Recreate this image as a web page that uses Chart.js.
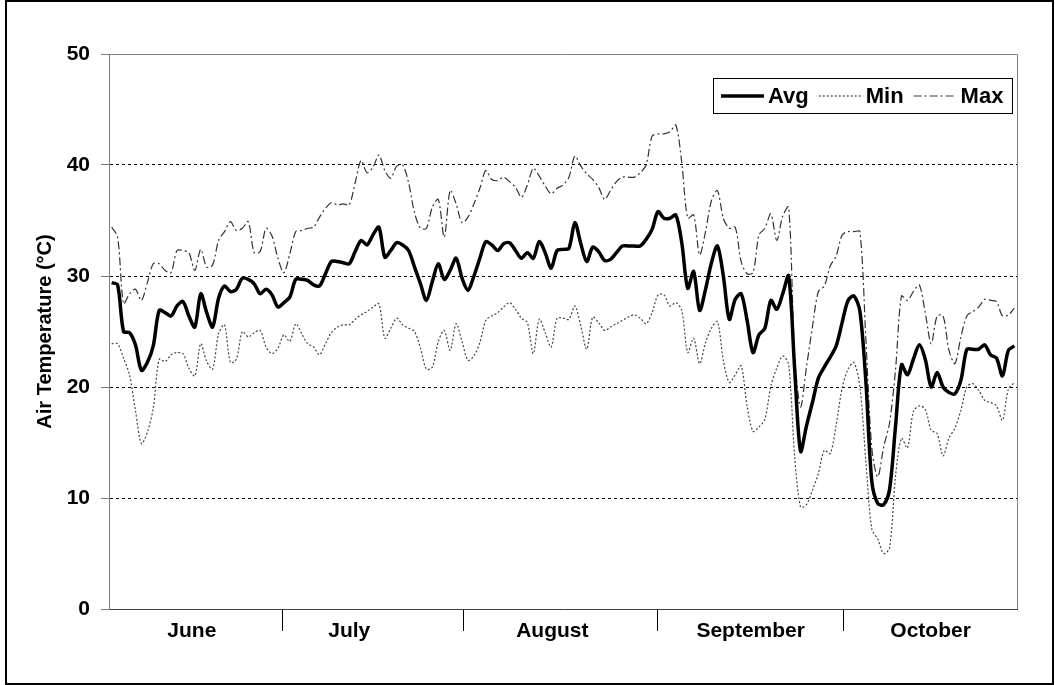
<!DOCTYPE html>
<html>
<head>
<meta charset="utf-8">
<script src="https://cdn.jsdelivr.net/npm/chart.js@4.4.0/dist/chart.umd.min.js"></script>
<style>
  html, body { margin: 0; padding: 0; background: #fff; }
  #wrap { width: 1055px; height: 685px; }
</style>
</head>
<body>
<div id="wrap"><canvas id="chart" width="1055" height="685"></canvas></div>
<script>
// daily air temperature, June - October (deg C)
const avgTemp = [
  29.4, 29.2, 25.0, 24.9, 23.8, 21.5, 22.2, 23.7, 26.9, 26.7,
  26.4, 27.3, 27.7, 26.4, 25.4, 28.4, 26.7, 25.4, 28.0, 29.1,
  28.6, 28.8, 29.8, 29.7, 29.3, 28.4, 28.8, 28.3, 27.2, 27.6,
  28.1, 29.7, 29.7, 29.6, 29.2, 29.1, 30.2, 31.3, 31.3, 31.2,
  31.1, 32.2, 33.2, 32.8, 33.7, 34.4, 31.7, 32.3, 33.0, 32.8,
  32.3, 30.8, 29.3, 27.8, 29.5, 31.1, 29.7, 30.5, 31.6, 29.8,
  28.7, 30.0, 31.6, 33.1, 32.8, 32.3, 32.9, 33.0, 32.3, 31.6,
  32.1, 31.6, 33.1, 32.1, 30.7, 32.3, 32.4, 32.5, 34.8, 32.9,
  31.3, 32.6, 32.2, 31.4, 31.5, 32.1, 32.7, 32.7, 32.7, 32.7,
  33.3, 34.2, 35.8, 35.2, 35.2, 35.5, 33.0, 28.9, 30.4, 26.9,
  28.8, 31.2, 32.7, 30.0, 26.1, 27.9, 28.4, 26.0, 23.1, 24.7,
  25.3, 27.8, 27.0, 28.4, 30.0, 21.7, 14.2, 16.5, 18.6, 20.8,
  21.8, 22.7, 23.7, 25.8, 27.8, 28.2, 26.8, 20.5, 11.5, 9.5,
  9.4, 10.8, 16.5, 22.0, 21.1, 22.5, 23.8, 22.5, 20.0, 21.3,
  20.0, 19.5, 19.4, 20.6, 23.4, 23.4, 23.4, 23.8, 22.9, 22.6,
  21.0, 23.3, 23.7
];
const minTemp = [
  23.9, 23.9, 22.6, 21.1, 17.9, 14.9, 15.9, 18.1, 22.5, 22.3,
  22.9, 23.1, 23.0, 21.7, 21.0, 23.9, 22.3, 21.6, 24.8, 25.6,
  22.2, 22.5, 25.0, 24.5, 24.9, 25.1, 23.6, 23.0, 23.5, 24.7,
  24.1, 25.7, 24.8, 23.9, 23.6, 22.9, 23.9, 24.9, 25.4, 25.6,
  25.6, 26.1, 26.5, 26.8, 27.2, 27.5, 24.4, 25.3, 26.2, 25.6,
  25.3, 25.0, 23.5, 21.6, 21.8, 24.1, 25.1, 23.3, 25.7, 24.1,
  22.4, 22.8, 24.0, 26.0, 26.4, 26.7, 27.2, 27.6, 27.0, 26.2,
  25.8, 23.0, 26.1, 24.9, 23.6, 26.2, 26.2, 26.1, 27.3, 25.5,
  23.4, 26.3, 25.8, 25.1, 25.4, 25.7, 26.0, 26.3, 26.5, 26.2,
  25.7, 26.7, 28.3, 28.3, 27.3, 27.6, 26.9, 23.1, 24.4, 22.1,
  24.0, 25.3, 25.9, 22.4, 20.4, 21.1, 21.9, 18.3, 16.0, 16.4,
  17.1, 20.1, 21.7, 22.8, 22.0, 13.8, 9.2, 9.4, 10.7, 12.2,
  14.3, 14.0, 16.6, 19.9, 21.6, 22.2, 20.0, 13.3, 7.2, 6.3,
  5.0, 5.5, 12.0, 15.4, 14.5, 17.8, 18.3, 18.0, 16.1, 15.8,
  13.8, 15.4, 16.3, 17.9, 20.0, 20.3, 19.7, 18.8, 18.6, 18.3,
  17.0, 19.8, 20.4
];
const maxTemp = [
  34.4, 33.5, 27.5, 28.4, 28.8, 27.8, 29.4, 31.1, 31.1, 30.5,
  30.3, 32.3, 32.3, 32.1, 30.5, 32.4, 30.8, 31.0, 33.2, 34.0,
  34.9, 34.1, 34.3, 34.9, 32.1, 32.2, 34.3, 33.6, 31.6, 30.3,
  32.0, 34.0, 34.1, 34.3, 34.4, 35.3, 36.1, 36.6, 36.4, 36.5,
  36.4, 38.4, 40.4, 39.3, 39.8, 40.9, 39.5, 38.8, 39.9, 40.0,
  38.4, 35.7, 34.3, 34.3, 36.2, 36.9, 33.5, 37.7, 36.5, 34.8,
  35.3, 36.5, 37.9, 39.5, 38.7, 38.6, 38.9, 38.5, 38.0, 37.1,
  38.2, 39.7, 39.0, 38.1, 37.4, 37.9, 38.2, 38.9, 40.8, 39.9,
  39.2, 38.7, 38.0, 36.9, 37.7, 38.5, 38.9, 38.9, 38.9, 39.3,
  40.0, 42.6, 42.8, 42.8, 43.0, 43.6, 40.2, 35.2, 35.5, 31.9,
  34.0, 36.8, 37.7, 35.2, 34.3, 34.4, 31.3, 30.2, 30.3, 33.7,
  34.3, 35.6, 33.2, 35.4, 36.2, 23.0, 18.2, 21.8, 25.4, 28.6,
  29.1, 30.9, 31.8, 33.7, 34.0, 34.0, 34.0, 24.3, 14.5, 11.9,
  14.6, 16.8, 21.6, 28.2, 27.8, 28.6, 29.2, 26.7, 23.9, 26.4,
  26.4, 23.3, 22.1, 24.5, 26.4, 26.8, 27.2, 27.9, 27.8, 27.7,
  26.4, 26.5, 27.1
];

// month axis: label positions and separators, in day index
const monthNames = ['June', 'July', 'August', 'September', 'October'];
const monthCenters = [13.5, 40.0, 74.2, 107.6, 137.9];
const monthEdges = [28.8, 59.2, 91.9, 123.3];

const FONT = "'Liberation Sans', Arial, sans-serif";

const toPoints = arr => arr.map((v, i) => ({ x: i, y: v }));

const frame = {
  id: 'frame',
  beforeDraw(chart) {
    const ctx = chart.ctx;
    ctx.save();
    ctx.fillStyle = '#fff';
    ctx.fillRect(0, 0, chart.width, chart.height);
    ctx.restore();
  },
  afterDraw(chart) {
    const ctx = chart.ctx;
    const a = chart.chartArea;
    ctx.save();
    // plot area top and right edges
    ctx.strokeStyle = '#808080';
    ctx.lineWidth = 1;
    ctx.beginPath();
    ctx.moveTo(a.left, a.top + 0.5);
    ctx.lineTo(a.right + 0.5, a.top + 0.5);
    ctx.lineTo(a.right + 0.5, a.bottom);
    ctx.stroke();
    // outer frame
    ctx.strokeStyle = '#000';
    ctx.lineWidth = 2;
    ctx.strokeRect(6, 1, chart.width - 8, chart.height - 2);

    // legend box
    const x0 = 713, y0 = 78, w = 299, h = 35;
    ctx.fillStyle = '#fff';
    ctx.fillRect(x0, y0, w, h);
    ctx.lineWidth = 1;
    ctx.strokeRect(x0 + 0.5, y0 + 0.5, w, h);
    const cy = y0 + h / 2 + 0.5;
    let x = x0 + 8;
    ctx.font = 'bold 22px ' + FONT;
    ctx.textBaseline = 'middle';
    chart.data.datasets.forEach(ds => {
      ctx.beginPath();
      ctx.setLineDash(ds.borderDash || []);
      ctx.lineWidth = ds.borderWidth;
      ctx.strokeStyle = ds.borderColor;
      ctx.moveTo(x, cy);
      ctx.lineTo(x + 43, cy);
      ctx.stroke();
      ctx.setLineDash([]);
      x += 47;
      ctx.fillStyle = '#000';
      ctx.fillText(ds.label, x, cy + 1);
      x += ctx.measureText(ds.label).width + 10;
    });
    ctx.restore();
  }
};

new Chart(document.getElementById('chart'), {
  type: 'line',
  data: {
    datasets: [
      {
        label: 'Avg',
        data: toPoints(avgTemp),
        borderColor: '#000',
        borderWidth: 3.5,
        pointRadius: 0,
        tension: 0.3
      },
      {
        label: 'Min',
        data: toPoints(minTemp),
        borderColor: '#444',
        borderWidth: 1.2,
        borderDash: [2, 2],
        pointRadius: 0,
        tension: 0.3
      },
      {
        label: 'Max',
        data: toPoints(maxTemp),
        borderColor: '#333',
        borderWidth: 1.2,
        borderDash: [8, 3, 2, 3],
        pointRadius: 0,
        tension: 0.3
      }
    ]
  },
  options: {
    responsive: false,
    animation: false,
    layout: { padding: { left: 0, right: 38, top: 54, bottom: 0 } },
    plugins: {
      legend: { display: false },
      tooltip: { enabled: false }
    },
    scales: {
      x: {
        type: 'linear',
        min: -0.45,
        max: 152.45,
        afterFit: s => { s.height = 76; },
        afterBuildTicks: s => {
          s.ticks = monthCenters.concat(monthEdges).sort((a, b) => a - b).map(v => ({ value: v }));
        },
        grid: {
          drawOnChartArea: false,
          tickLength: 22,
          tickColor: c => monthEdges.includes(c.tick && c.tick.value) ? '#000' : 'rgba(0,0,0,0)'
        },
        border: { color: '#404040', width: 1 },
        ticks: {
          autoSkip: false,
          maxRotation: 0,
          padding: -12,
          color: '#000',
          font: { family: FONT, size: 21, weight: 'bold' },
          callback: v => {
            const i = monthCenters.indexOf(v);
            return i >= 0 ? monthNames[i] : '';
          }
        }
      },
      y: {
        min: 0,
        max: 50,
        afterFit: s => { s.width = 109; },
        grid: {
          color: c => (c.tick && (c.tick.value === 0 || c.tick.value === 50)) ? 'rgba(0,0,0,0)' : '#000',
          tickColor: '#808080',
          tickLength: 8,
          tickBorderDash: []
        },
        border: { color: '#808080', width: 1, dash: [3, 3] },
        ticks: {
          stepSize: 10,
          padding: 11,
          color: '#000',
          font: { family: FONT, size: 21, weight: 'bold' }
        },
        title: {
          display: true,
          text: 'Air Temperature (°C)',
          color: '#000',
          padding: { top: 33, bottom: 0 },
          font: { family: FONT, size: 20, weight: 'bold' }
        }
      }
    }
  },
  plugins: [frame]
});
</script>
</body>
</html>
